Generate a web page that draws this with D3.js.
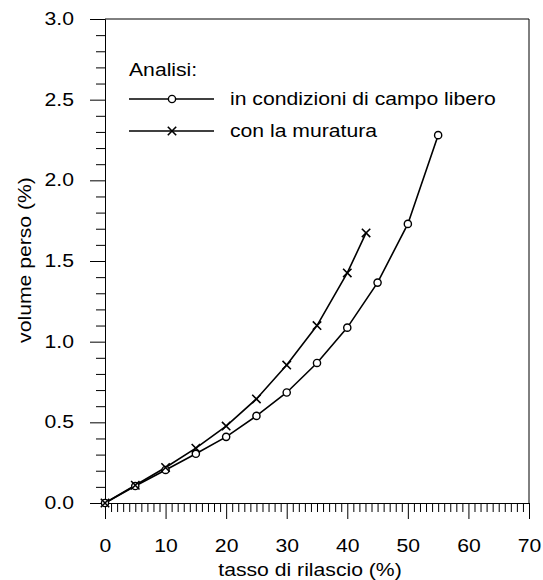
<!DOCTYPE html>
<html>
<head>
<meta charset="utf-8" />
<script src="https://d3js.org/d3.v7.min.js"></script>
<style>
  body { margin: 0; background: #fff; }
  text { font-family: "Liberation Sans", Arial, sans-serif; fill: #000; }
</style>
</head>
<body>
<svg width="543" height="580"></svg>
<script>
// dati
const rilascioLibero = [0, 5, 10, 15, 20, 25, 30, 35, 40, 45, 50, 55]
const volumeLibero = [0, 0.105, 0.205, 0.305, 0.41, 0.54, 0.685, 0.868, 1.087, 1.366, 1.73, 2.28]
const rilascioMuratura = [0, 5, 10, 15, 20, 25, 30, 35, 40, 43.1]
const volumeMuratura = [0, 0.11, 0.22, 0.34, 0.477, 0.645, 0.855, 1.10, 1.426, 1.674]
const xTicks = [0, 10, 20, 30, 40, 50, 60, 70]
const yTicks = [0, 0.5, 1.0, 1.5, 2.0, 2.5, 3.0]
const legendLabels = ['in condizioni di campo libero', 'con la muratura']

const svg = d3.select('svg')
const x = d3.scaleLinear().domain([0, 70]).range([105, 529])
const y = d3.scaleLinear().domain([0, 3]).range([503, 19])

const FS = '17.5px'
const SX = 1.21 // il font originale e' piu' largo

// testo "allargato" orizzontalmente
function label(g, tx, ty, str, anchor, rot) {
    return g.append('text')
        .attr('transform', `translate(${tx},${ty})${rot ? ' rotate(' + rot + ')' : ''} scale(${SX},1)`)
        .attr('text-anchor', anchor || 'start')
        .style('font-size', FS)
        .text(str)
}

// assi
const xMinor = d3.range(0, 71, 1).filter((d) => d % 10 !== 0)
const yMinor = d3.range(0, 31, 1).map((d) => d / 10).filter((d, i) => i % 5 !== 0)

function styleAxis(g) {
    g.selectAll('path').attr('stroke', '#000')
    g.selectAll('line').attr('stroke', '#000')
    g.selectAll('text').style('font-size', FS).style('font-family', '"Liberation Sans", Arial, sans-serif')
}

svg.append('g')
    .attr('transform', 'translate(0,503)')
    .call(d3.axisBottom(x).tickValues(xMinor).tickFormat('').tickSize(9).tickSizeOuter(0))
    .call(styleAxis)
svg.append('g')
    .attr('transform', 'translate(0,503)')
    .call(d3.axisBottom(x).tickValues(xTicks).tickFormat(d3.format('d')).tickSize(16).tickPadding(21).tickSizeOuter(0))
    .call(styleAxis)
    .call((g) => g.selectAll('text').attr('transform', `scale(${SX},1)`))

svg.append('g')
    .attr('transform', 'translate(105,0)')
    .call(d3.axisLeft(y).tickValues(yMinor).tickFormat('').tickSize(9).tickSizeOuter(0))
    .call(styleAxis)
svg.append('g')
    .attr('transform', 'translate(105,0)')
    .call(d3.axisLeft(y).tickValues(yTicks).tickFormat(d3.format('.1f')).tickSize(15).tickSizeOuter(0))
    .call(styleAxis)
    .call((g) => g.selectAll('text').attr('x', 0).attr('transform', `translate(-31,0) scale(${SX},1)`))

// bordo superiore e destro
svg.append('path')
    .attr('d', `M${x(0)},${y(3)}H${x(70)}V${y(0)}`)
    .attr('fill', 'none')
    .attr('stroke', '#000')

// titoli assi
label(svg, 310, 576, 'tasso di rilascio (%)', 'middle')
label(svg, 31, 260, 'volume perso (%)', 'middle', -90)

// curve
const line = d3.line().x((d) => x(d[0])).y((d) => y(d[1]))
const libero = rilascioLibero.map((d, i) => [d, volumeLibero[i]])
const muratura = rilascioMuratura.map((d, i) => [d, volumeMuratura[i]])

svg.append('path').datum(libero).attr('d', line)
    .attr('fill', 'none').attr('stroke', '#000').attr('stroke-width', 1.6)
svg.append('path').datum(muratura).attr('d', line)
    .attr('fill', 'none').attr('stroke', '#000').attr('stroke-width', 1.6)

function drawCircle(g, cx, cy) {
    g.append('circle').attr('cx', cx).attr('cy', cy).attr('r', 3.6)
        .attr('fill', '#fff').attr('stroke', '#000').attr('stroke-width', 1.4)
}
function drawCross(g, cx, cy) {
    const s = 4.2
    g.append('path')
        .attr('d', `M${cx - s},${cy - s}L${cx + s},${cy + s}M${cx - s},${cy + s}L${cx + s},${cy - s}`)
        .attr('stroke', '#000').attr('stroke-width', 1.6)
}

const marks = svg.append('g')
libero.forEach((d) => drawCircle(marks, x(d[0]), y(d[1])))
muratura.forEach((d) => drawCross(marks, x(d[0]), y(d[1])))

// legenda
const leg = svg.append('g')
label(leg, 129, 76, 'Analisi:')
const legY = [99, 131]
legendLabels.forEach((lab, i) => {
    leg.append('line')
        .attr('x1', 129).attr('x2', 214).attr('y1', legY[i]).attr('y2', legY[i])
        .attr('stroke', '#000').attr('stroke-width', 1.6)
    if (i === 0) drawCircle(leg, 172, legY[i])
    else drawCross(leg, 172, legY[i])
    label(leg, 230, legY[i] + 6, lab)
})
</script>
</body>
</html>
